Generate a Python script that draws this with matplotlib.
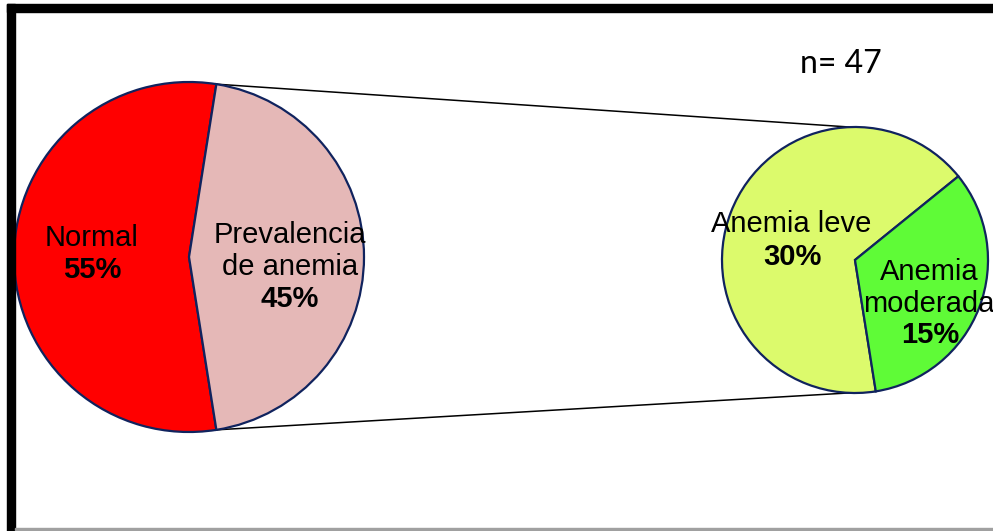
import numpy as np
import matplotlib
matplotlib.use("Agg")
import matplotlib.pyplot as plt
from matplotlib.patches import Rectangle

# Data
main_labels = ["Normal", "Prevalencia\nde anemia"]
main_values = [55, 45]
main_colors = ["#ff0000", "#e5b8b7"]

sub_labels = ["Anemia leve", "Anemia\nmoderada"]
sub_values = [30, 15]
sub_colors = ["#dcfa6c", "#5ffb37"]

n_total = 47

W, H = 993, 531
fig = plt.figure(figsize=(W / 100, H / 100), dpi=100)
ax = fig.add_axes([0, 0, 1, 1])

edge = "#10235e"

# Main pie (left)
c1, r1 = (189, 274), 175
ax.pie(main_values, colors=main_colors, startangle=81, center=c1, radius=r1,
       wedgeprops=dict(edgecolor=edge, linewidth=1.6), frame=True)

# Sub pie (right) - splits the anemia share
c2, r2 = (855, 271), 133
ax.pie(sub_values, colors=sub_colors, startangle=39, center=c2, radius=r2,
       wedgeprops=dict(edgecolor=edge, linewidth=1.6), frame=True)

# connector lines
def pt(c, r, ang):
    a = np.deg2rad(ang)
    return c[0] + r * np.cos(a), c[1] + r * np.sin(a)

p1 = pt(c1, r1, 81)
p2 = pt(c2, r2, 92)
p3 = pt(c1, r1, -81)
p4 = pt(c2, r2, -81)
ax.plot([p1[0], p2[0]], [p1[1], p2[1]], color="black", lw=1.1, zorder=0)
ax.plot([p3[0], p4[0]], [p3[1], p4[1]], color="black", lw=1.1, zorder=0)

# labels
font = "Liberation Sans"
fs = 21
def lab(x, ypix, s, bold=False):
    ax.text(x, H - ypix, s, ha="center", va="baseline", fontsize=fs,
            family=font, fontweight="bold" if bold else "normal", zorder=5)

lab(92, 246, main_labels[0])
lab(92, 278, f"{main_values[0]}%", bold=True)
for i, line in enumerate(main_labels[1].split("\n")):
    lab(290, 243 + 32 * i, line)
lab(290, 307, f"{main_values[1]}%", bold=True)

lab(791, 232, sub_labels[0])
lab(792, 265, f"{sub_values[0]}%", bold=True)
for i, line in enumerate(sub_labels[1].split("\n")):
    lab(929, 280 + 32 * i, line)
lab(930, 343, f"{sub_values[1]}%", bold=True)

ax.text(841, H - 73, f"n= {n_total}", ha="center", va="baseline",
        fontsize=23, family="Lato")

# frame border
ax.add_patch(Rectangle((7, H - 12), W - 7, 8, color="black", zorder=6))
ax.add_patch(Rectangle((7, 0), 8, H - 4, color="black", zorder=6))
ax.add_patch(Rectangle((15, H - 530), W - 15, 2, color="#a0a0a0", zorder=6))

ax.set_xlim(0, W)
ax.set_ylim(0, H)
ax.set_aspect("auto")
ax.axis("off")

fig.savefig("out.png", dpi=100)
